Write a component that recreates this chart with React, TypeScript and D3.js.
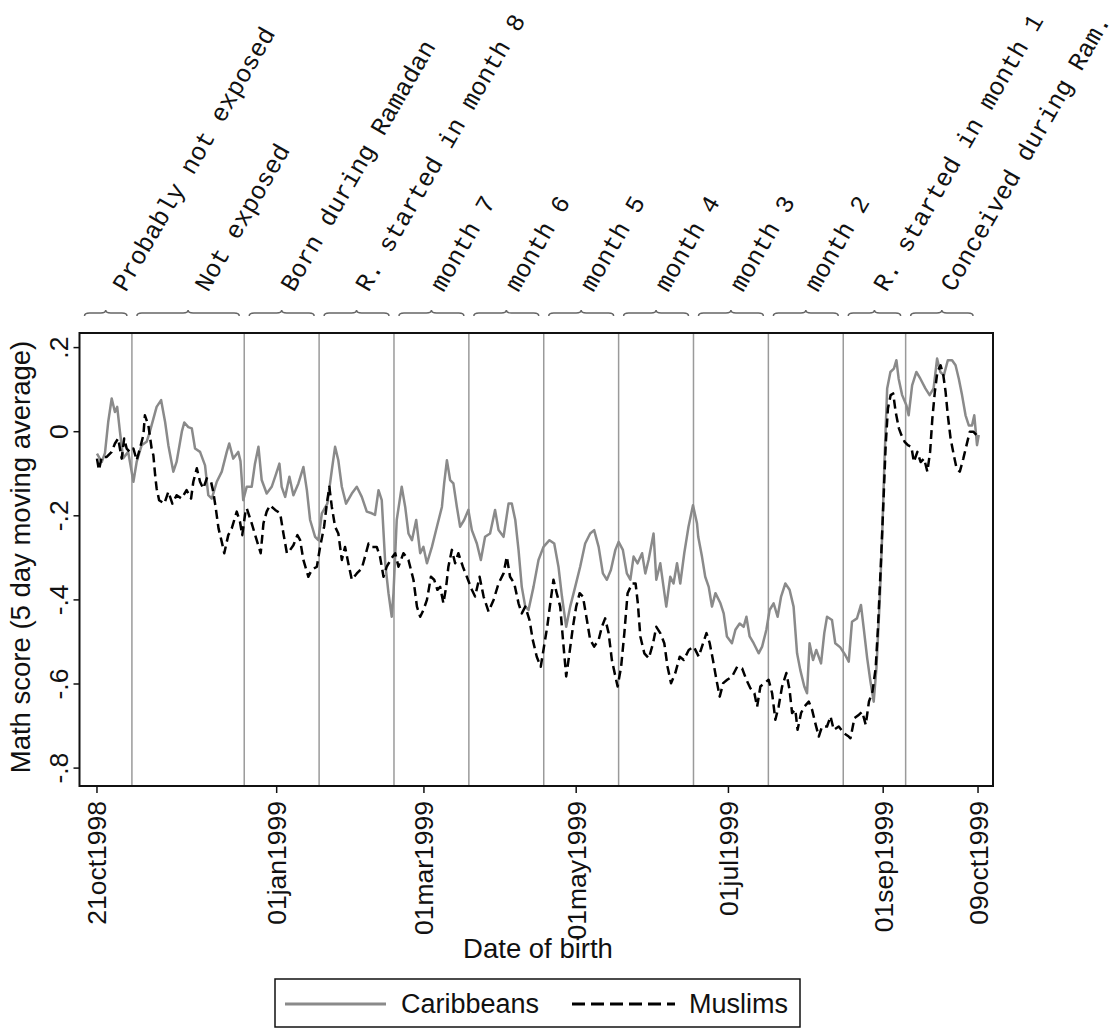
import React from "react";
import * as d3 from "d3";

// Days since 21oct1998, 5-day moving average math score
const caribbeans: [number, number][] = [
  [0, -0.052], [1.9, -0.072], [3.2, -0.051], [4.5, 0.023], [5.9, 0.079], [7.2, 0.047], [8.1, 0.059],
  [9.2, 0.0], [10.5, -0.063], [12.5, -0.048], [14.6, -0.119], [15.9, -0.072], [17.9, -0.032],
  [19.9, -0.024], [21.2, 0.0], [23.9, 0.059], [25.7, 0.075], [27.3, 0.023], [28.6, -0.032],
  [30.6, -0.095], [31.9, -0.072], [34.0, 0.0], [35.0, 0.022], [36.6, 0.011], [38.0, 0.008],
  [39.3, -0.04], [41.3, -0.048], [43.3, -0.08], [44.6, -0.151], [46.0, -0.159], [48.0, -0.119],
  [50.0, -0.095], [52.0, -0.048], [53.0, -0.028], [54.6, -0.064], [56.6, -0.048], [57.5, -0.07],
  [58.6, -0.163], [60.0, -0.131], [62.0, -0.131], [63.3, -0.076], [64.7, -0.036], [66.0, -0.115],
  [68.0, -0.147], [70.0, -0.131], [71.4, -0.107], [73.1, -0.076], [74.0, -0.131], [75.4, -0.155],
  [77.1, -0.107], [78.7, -0.151], [80.7, -0.123], [82.7, -0.084], [84.1, -0.139], [85.4, -0.21],
  [87.4, -0.25], [88.7, -0.258], [90.1, -0.194], [92.3, -0.171], [94.1, -0.091], [95.4, -0.036],
  [96.7, -0.068], [98.1, -0.131], [99.8, -0.171], [102.1, -0.147], [104.1, -0.131], [106.1, -0.155],
  [108.1, -0.19], [110.1, -0.194], [111.4, -0.198], [112.8, -0.139], [114.1, -0.163], [115.5, -0.313],
  [116.8, -0.384], [118.1, -0.44], [118.8, -0.384], [120.1, -0.21], [122.1, -0.131], [123.5, -0.179],
  [124.8, -0.242], [126.2, -0.258], [127.9, -0.21], [129.5, -0.289], [130.8, -0.274], [132.2, -0.313],
  [134.2, -0.274], [136.2, -0.226], [138.2, -0.179], [139.1, -0.123], [140.2, -0.068], [141.5, -0.115],
  [142.8, -0.123], [144.2, -0.179], [145.5, -0.226], [147.1, -0.21], [148.8, -0.186], [150.2, -0.234],
  [152.2, -0.266], [153.8, -0.305], [155.5, -0.25], [157.5, -0.242], [159.5, -0.186], [160.9, -0.234],
  [162.9, -0.25], [164.9, -0.171], [166.2, -0.171], [167.6, -0.21], [168.9, -0.281], [170.2, -0.369],
  [171.6, -0.416], [172.9, -0.424], [174.9, -0.369], [176.9, -0.305], [178.9, -0.274], [181.3, -0.258],
  [183.2, -0.266], [184.9, -0.321], [186.3, -0.392], [188.0, -0.464], [189.6, -0.416], [191.6, -0.369],
  [193.6, -0.321], [195.6, -0.266], [197.6, -0.242], [199.2, -0.234], [201.0, -0.274], [202.7, -0.337],
  [204.3, -0.352], [205.9, -0.329], [207.7, -0.281], [209.0, -0.262], [210.7, -0.281], [212.3, -0.337],
  [213.7, -0.352], [215.0, -0.297], [216.6, -0.313], [218.4, -0.289], [219.7, -0.337], [221.0, -0.305],
  [223.0, -0.242], [224.1, -0.352], [225.7, -0.313], [227.0, -0.369], [228.1, -0.416], [229.7, -0.345],
  [231.0, -0.361], [232.4, -0.313], [233.7, -0.361], [235.3, -0.289], [237.0, -0.226], [238.8, -0.175],
  [240.4, -0.218], [240.9, -0.25], [242.4, -0.297], [243.7, -0.345], [245.1, -0.369], [246.4, -0.416],
  [247.8, -0.384], [249.8, -0.408], [251.1, -0.432], [252.4, -0.487], [254.4, -0.503], [255.8, -0.471],
  [257.5, -0.456], [259.1, -0.464], [260.2, -0.44], [261.5, -0.487], [263.1, -0.503], [265.1, -0.527],
  [266.5, -0.511], [268.2, -0.471], [269.5, -0.424], [271.1, -0.408], [272.7, -0.44], [274.1, -0.392],
  [275.8, -0.361], [277.5, -0.376], [279.1, -0.416], [280.5, -0.527], [281.8, -0.567], [283.4, -0.606],
  [284.5, -0.622], [285.5, -0.503], [286.9, -0.543], [288.2, -0.519], [290.1, -0.551], [291.4, -0.479],
  [292.5, -0.44], [294.5, -0.448], [295.8, -0.503], [297.8, -0.513], [299.8, -0.531], [301.2, -0.547],
  [302.5, -0.452], [304.5, -0.444], [306.1, -0.412], [307.2, -0.467], [308.6, -0.539], [309.9, -0.594],
  [311.2, -0.642], [312.3, -0.562], [313.6, -0.404], [314.6, -0.246], [315.5, -0.072], [316.6, 0.103],
  [317.9, 0.142], [319.3, 0.15], [320.3, 0.17], [321.2, 0.126], [322.6, 0.087], [324.3, 0.063],
  [325.2, 0.039], [326.6, 0.11], [328.3, 0.142], [329.9, 0.126], [331.9, 0.103], [333.6, 0.087],
  [335.2, 0.103], [336.6, 0.174], [337.9, 0.142], [339.3, 0.134], [340.9, 0.17], [342.6, 0.17],
  [344.0, 0.158], [345.3, 0.126], [346.6, 0.087], [348.0, 0.039], [349.3, 0.015], [350.6, 0.015],
  [351.5, 0.039], [352.6, -0.032], [353.3, -0.008],
];

const muslims: [number, number][] = [
  [0, -0.064], [0.8, -0.091], [1.9, -0.06], [3.9, -0.06], [5.9, -0.048], [7.2, -0.028], [8.5, -0.016],
  [9.9, -0.064], [10.9, -0.016], [11.9, -0.04], [13.2, -0.048], [14.6, -0.04], [15.9, -0.068],
  [17.2, -0.04], [18.6, -0.008], [19.2, 0.039], [20.6, 0.015], [21.9, -0.04], [22.6, -0.056],
  [23.3, -0.103], [23.9, -0.135], [24.9, -0.163], [27.0, -0.171], [28.6, -0.143], [30.2, -0.171],
  [31.9, -0.151], [33.9, -0.159], [35.9, -0.139], [37.7, -0.159], [38.6, -0.119], [40.0, -0.087],
  [41.3, -0.119], [42.6, -0.135], [44.0, -0.111], [45.7, -0.119], [46.6, -0.143], [47.6, -0.182],
  [48.7, -0.23], [50.0, -0.262], [51.0, -0.289], [52.6, -0.246], [54.0, -0.23], [56.0, -0.19],
  [57.3, -0.214], [58.2, -0.246], [59.5, -0.19], [60.0, -0.182], [62.0, -0.218], [64.0, -0.258],
  [65.6, -0.289], [66.7, -0.218], [68.0, -0.19], [69.3, -0.175], [71.4, -0.186], [73.4, -0.194],
  [74.7, -0.242], [76.1, -0.289], [77.4, -0.281], [78.7, -0.27], [80.3, -0.246], [81.4, -0.258],
  [82.7, -0.305], [84.7, -0.345], [86.0, -0.329], [88.1, -0.321], [89.4, -0.274], [91.0, -0.226],
  [92.1, -0.171], [93.1, -0.131], [94.1, -0.179], [95.4, -0.226], [96.7, -0.242], [98.1, -0.305],
  [99.4, -0.274], [100.7, -0.313], [102.1, -0.352], [104.1, -0.337], [106.1, -0.325], [107.4, -0.297],
  [108.8, -0.266], [110.1, -0.274], [112.1, -0.274], [113.4, -0.297], [114.8, -0.345], [116.1, -0.321],
  [118.1, -0.3], [119.5, -0.289], [120.8, -0.321], [122.8, -0.289], [124.8, -0.305], [126.8, -0.352],
  [128.2, -0.416], [129.5, -0.44], [130.8, -0.424], [132.2, -0.4], [133.8, -0.345], [135.1, -0.352],
  [136.4, -0.376], [137.5, -0.369], [138.8, -0.408], [139.9, -0.369], [140.8, -0.321], [142.2, -0.281],
  [143.5, -0.313], [144.8, -0.289], [146.6, -0.321], [148.2, -0.345], [150.2, -0.376], [151.5, -0.392],
  [153.3, -0.345], [154.9, -0.392], [156.9, -0.428], [158.9, -0.4], [160.9, -0.361], [162.9, -0.337],
  [164.2, -0.297], [165.5, -0.345], [167.2, -0.361], [168.9, -0.408], [170.2, -0.432], [171.6, -0.416],
  [173.3, -0.448], [174.6, -0.495], [176.2, -0.535], [177.8, -0.559], [179.1, -0.511], [180.4, -0.464],
  [181.8, -0.4], [182.9, -0.352], [184.2, -0.384], [185.6, -0.416], [186.6, -0.487], [188.0, -0.582],
  [189.3, -0.527], [190.7, -0.464], [192.0, -0.416], [193.4, -0.384], [194.7, -0.392], [196.3, -0.448],
  [197.6, -0.495], [199.2, -0.511], [201.0, -0.495], [202.3, -0.464], [203.6, -0.444], [205.0, -0.479],
  [206.3, -0.543], [207.7, -0.582], [208.6, -0.606], [210.0, -0.559], [211.3, -0.479], [212.6, -0.384],
  [214.4, -0.361], [215.8, -0.361], [216.7, -0.408], [217.7, -0.487], [219.3, -0.527], [221.1, -0.539],
  [222.8, -0.503], [224.1, -0.464], [225.7, -0.479], [227.3, -0.503], [228.6, -0.559], [230.0, -0.598],
  [231.7, -0.574], [233.5, -0.535], [235.1, -0.543], [237.1, -0.519], [239.1, -0.511], [241.1, -0.535],
  [242.4, -0.511], [244.2, -0.479], [245.5, -0.503], [246.8, -0.543], [248.2, -0.59], [249.5, -0.63],
  [250.9, -0.598], [252.5, -0.59], [254.5, -0.582], [256.5, -0.559], [258.5, -0.563], [260.2, -0.59],
  [261.8, -0.61], [263.4, -0.622], [264.5, -0.654], [265.8, -0.606], [267.4, -0.598], [269.1, -0.59],
  [270.5, -0.622], [271.8, -0.685], [273.1, -0.654], [274.5, -0.606], [276.2, -0.574], [277.5, -0.614],
  [278.5, -0.669], [279.8, -0.661], [280.7, -0.709], [282.1, -0.669], [283.4, -0.654], [285.2, -0.642],
  [286.5, -0.661], [287.8, -0.693], [289.2, -0.725], [290.5, -0.701], [292.5, -0.701], [293.9, -0.677],
  [295.2, -0.709], [297.2, -0.701], [299.2, -0.717], [301.2, -0.725], [301.9, -0.729], [303.5, -0.681],
  [305.3, -0.673], [306.6, -0.666], [308.0, -0.697], [309.3, -0.642], [310.7, -0.618], [312.0, -0.562],
  [312.9, -0.467], [314.0, -0.325], [315.1, -0.167], [316.0, -0.032], [316.9, 0.055], [318.0, 0.087],
  [319.0, 0.091], [320.0, 0.047], [321.3, 0.008], [322.3, -0.008], [323.6, -0.024], [324.9, -0.032],
  [326.3, -0.036], [327.3, -0.072], [328.7, -0.048], [330.0, -0.072], [331.4, -0.064], [332.7, -0.095],
  [333.8, -0.048], [334.7, 0.031], [335.7, 0.095], [336.7, 0.142], [338.0, 0.158], [339.1, 0.134],
  [340.0, 0.095], [340.9, 0.039], [342.0, -0.016], [343.3, -0.056], [344.4, -0.087], [345.7, -0.095],
  [347.1, -0.064], [348.4, -0.032], [349.7, 0.0], [351.1, 0.0], [352.4, -0.008],
];

const segmentBounds = [
  "1998-10-14", "1998-11-04", "1998-12-19", "1999-01-18", "1999-02-17", "1999-03-19",
  "1999-04-18", "1999-05-18", "1999-06-17", "1999-07-17", "1999-08-16", "1999-09-10", "1999-10-09",
];
const segmentLabels = [
  "Probably not exposed", "Not exposed", "Born during Ramadan", "R. started in month 8",
  "month 7", "month 6", "month 5", "month 4", "month 3", "month 2",
  "R. started in month 1", "Conceived during Ram.",
];
const xTickDates = ["1998-10-21", "1999-01-01", "1999-03-01", "1999-05-01", "1999-07-01", "1999-09-01", "1999-10-09"];
const xTickLabels = ["21oct1998", "01jan1999", "01mar1999", "01may1999", "01jul1999", "01sep1999", "09oct1999"];
const yTicks = [0.2, 0, -0.2, -0.4, -0.6, -0.8];
const yTickLabels = [".2", "0", "-.2", "-.4", "-.6", "-.8"];
const seriesNames = ["Caribbeans", "Muslims"];

const START = Date.UTC(1998, 9, 21);
const parse = (s: string) => {
  const [y, m, d] = s.split("-").map(Number);
  return new Date(Date.UTC(y, m - 1, d));
};
const dayToDate = (d: number) => new Date(START + d * 864e5);

export default function App() {
  const W = 1113, H = 1030;
  const frame = { left: 79.5, right: 993, top: 333, bottom: 786 };
  const x = d3.scaleUtc().domain([parse("1998-10-14"), parse("1999-10-15")]).range([frame.left, frame.right]);
  const y = d3.scaleLinear().domain([-0.8, 0.2]).range([768.1, 347.6]);
  const line = d3.line<[number, number]>().x((d) => x(dayToDate(d[0]))).y((d) => y(d[1]));

  const sans = "'Liberation Sans', Arial, sans-serif";
  const mono = "'Liberation Mono', 'Courier New', monospace";
  const bounds = segmentBounds.map((s) => x(parse(s)));
  const braceY = 313;

  const bracePath = (a: number, b: number) => {
    const m = (a + b) / 2;
    const yy = braceY;
    return `M${a},${yy + 3} Q${a},${yy} ${a + 5},${yy} L${m - 5},${yy} Q${m},${yy} ${m},${yy - 3} Q${m},${yy} ${m + 5},${yy} L${b - 5},${yy} Q${b},${yy} ${b},${yy + 3}`;
  };

  return (
    <svg width={W} height={H} style={{ position: "absolute", left: 0, top: 0, background: "#fff" }}>
      <rect x={0} y={0} width={W} height={H} fill="#fff" />
      {/* segment labels and braces */}
      {segmentLabels.map((lab, i) => {
        const a = bounds[i], b = bounds[i + 1];
        const m = (a + b) / 2;
        const off = i < 2 ? 20 : 12;
        return (
          <g key={lab}>
            <path d={bracePath(a + 5, b - 5)} fill="none" stroke="#666" strokeWidth={1.5} />
            <text
              transform={`translate(${m + off},293) rotate(-60)`}
              fontFamily={mono}
              fontSize={25}
              fill="#111"
            >
              {lab}
            </text>
          </g>
        );
      })}
      {/* vertical boundary lines */}
      {bounds.slice(1, -1).map((bx, i) => (
        <line key={i} x1={bx} x2={bx} y1={frame.top} y2={frame.bottom} stroke="#9a9a9a" strokeWidth={1.5} />
      ))}
      {/* series */}
      <path d={line(caribbeans) || ""} fill="none" stroke="#8a8a8a" strokeWidth={2.5} strokeLinejoin="round" />
      <path d={line(muslims) || ""} fill="none" stroke="#000" strokeWidth={2.5} strokeDasharray="9,5" strokeLinejoin="round" />
      {/* frame */}
      <rect x={frame.left} y={frame.top} width={frame.right - frame.left} height={frame.bottom - frame.top} fill="none" stroke="#111" strokeWidth={2} />
      {/* y axis */}
      {yTicks.map((t, i) => (
        <g key={t}>
          <line x1={frame.left - 6} x2={frame.left} y1={y(t)} y2={y(t)} stroke="#111" strokeWidth={1.5} />
          <text transform={`translate(${frame.left - 12},${y(t)}) rotate(-90)`} textAnchor="middle" fontFamily={sans} fontSize={26.5} fill="#111">
            {yTickLabels[i]}
          </text>
        </g>
      ))}
      <text transform={`translate(30,557) rotate(-90)`} textAnchor="middle" fontFamily={sans} fontSize={27.5} fill="#111">
        Math score (5 day moving average)
      </text>
      {/* x axis */}
      {xTickDates.map((s, i) => {
        const tx = x(parse(s));
        return (
          <g key={s}>
            <line x1={tx} x2={tx} y1={frame.bottom} y2={frame.bottom + 7} stroke="#111" strokeWidth={1.5} />
            <text transform={`translate(${tx + 9.5},${frame.bottom + 15}) rotate(-90)`} textAnchor="end" fontFamily={sans} fontSize={26.5} fill="#111">
              {xTickLabels[i]}
            </text>
          </g>
        );
      })}
      <text x={538} y={958} textAnchor="middle" fontFamily={sans} fontSize={27.5} fill="#111">
        Date of birth
      </text>
      {/* legend */}
      <rect x={275} y={979} width={525} height={48} fill="#fff" stroke="#111" strokeWidth={1.5} />
      <line x1={285} x2={386} y1={1004} y2={1004} stroke="#8a8a8a" strokeWidth={3} />
      <text x={401} y={1013} fontFamily={sans} fontSize={27} fill="#111">{seriesNames[0]}</text>
      <line x1={572} x2={675} y1={1004} y2={1004} stroke="#000" strokeWidth={3} strokeDasharray="13,6" />
      <text x={689} y={1013} fontFamily={sans} fontSize={27} fill="#111">{seriesNames[1]}</text>
    </svg>
  );
}
